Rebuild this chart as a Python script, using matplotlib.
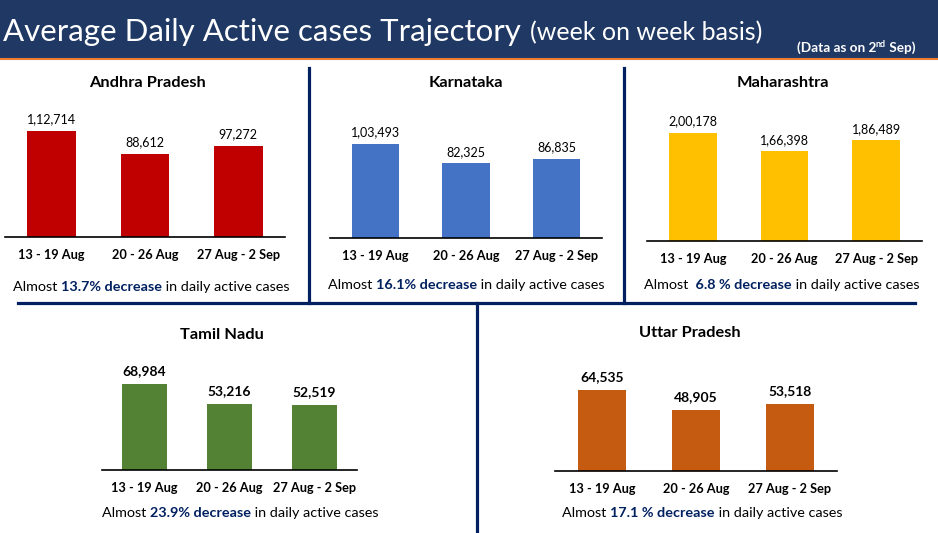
import matplotlib
matplotlib.use('Agg')
import matplotlib.pyplot as plt
from matplotlib.lines import Line2D
from matplotlib.patches import Rectangle

plt.rcParams['font.family'] = ['Lato', 'DejaVu Sans']

W, H = 938, 533

# data
weeks = ['13 - 19 Aug', '20 - 26 Aug', '27 Aug - 2 Sep']
states = ['Andhra Pradesh', 'Karnataka', 'Maharashtra', 'Tamil Nadu', 'Uttar Pradesh']
andhra = [112714, 88612, 97272]
karnataka = [103493, 82325, 86835]
maharashtra = [200178, 166398, 186489]
tamil_nadu = [68984, 53216, 52519]
uttar_pradesh = [64535, 48905, 53518]
decrease = ['13.7%', '16.1%', ' 6.8 %', '23.9%', '17.1 %']
bar_colors = ['#C00000', '#4472C4', '#FFC000', '#548235', '#C55A11']

navy = '#002060'
header_navy = '#1F3864'


def fx(x):
    return x / W


def fy(y):
    return 1 - y / H


def indian(n):
    # lakh style grouping: 1,12,714
    s = str(n)
    head, tail = s[:-3], s[-3:]
    groups = []
    while len(head) > 2:
        groups.insert(0, head[-2:])
        head = head[:-2]
    if head:
        groups.insert(0, head)
    return ','.join(groups + [tail])


def chain(parts, cx, cy):
    # draw text pieces one after another, centred on cx
    r = fig.canvas.get_renderer()
    texts = []
    for s, size, weight, color, dy in parts:
        t = fig.text(0, fy(cy + dy), s, fontsize=size, fontweight=weight,
                     color=color, va='center', ha='left')
        texts.append(t)
    widths = [t.get_window_extent(r).width for t in texts]
    x = cx - sum(widths) / 2
    for t, w in zip(texts, widths):
        t.set_x(fx(x))
        x += w


fig = plt.figure(figsize=(W / 100, H / 100), dpi=100)
fig.patch.set_facecolor('white')

# header band
fig.add_artist(Rectangle((0, fy(57)), 1, 57 / H, transform=fig.transFigure,
                         color=header_navy, zorder=0))
fig.add_artist(Line2D([0, 1], [fy(58.5), fy(58.5)], color='#ED7D31', lw=1.5))
fig.text(fx(3), fy(32), 'Average Daily Active cases Trajectory', color='white',
         fontsize=22.5, va='center', ha='left')
fig.text(fx(530), fy(33), '(week on week basis)', color='white',
         fontsize=18, va='center', ha='left')

# panel layout: left, right, baseline, top of tallest bar, title xy, footer xy
panels = [
    (5, 285, 237, 131, (147, 83), (151, 287), False),
    (330, 602, 238, 144, (466, 83), (466, 285), False),
    (647, 922, 241, 133, (783, 83), (782, 285), False),
    (102, 357, 470, 384, (222, 335), (240, 513), True),
    (555, 837, 471, 390, (690, 333), (702, 513), True),
]
series = [andhra, karnataka, maharashtra, tamil_nadu, uttar_pradesh]

for i, (l, r, base, top, tpos, fpos, big) in enumerate(panels):
    vals = series[i]
    ax = fig.add_axes([fx(l), fy(base), (r - l) / W, (base - top) / H])
    ax.bar(range(3), vals, width=0.52, color=bar_colors[i])
    ax.set_xlim(-0.5, 2.5)
    ax.set_ylim(0, max(vals))
    ax.set_facecolor('none')
    for s in ['top', 'left', 'right']:
        ax.spines[s].set_visible(False)
    ax.spines['bottom'].set_linewidth(1.2)
    ax.set_yticks([])
    ax.set_xticks(range(3))
    ax.set_xticklabels(weeks, fontsize=9.2, fontweight='bold')
    ax.tick_params(axis='x', length=0, pad=8.5)
    for j, v in enumerate(vals):
        ax.annotate(indian(v), (j, v), xytext=(0, 4 if not big else 5),
                    textcoords='offset points', ha='center', va='bottom',
                    fontsize=10 if big else 9,
                    fontweight='bold' if big else 'normal',
                    annotation_clip=False)
    fig.text(fx(tpos[0]), fy(tpos[1]), states[i], fontsize=11.8,
             fontweight='bold', ha='center', va='center')
    chain([('Almost ', 10.4, 'normal', 'black', 0),
           (decrease[i] + ' decrease', 10.4, 'bold', navy, 0),
           (' in daily active cases', 10.4, 'normal', 'black', 0)],
          fpos[0], fpos[1])

# "(Data as on 2nd Sep)" with superscript
chain([('(Data as on 2', 9.8, 'bold', 'white', 0),
       ('nd', 6.5, 'bold', 'white', -3),
       (' Sep)', 9.8, 'bold', 'white', 0)], 856, 48)

# separator lines
for xs, ys in [([309, 309], [68, 303]), ([624, 624], [68, 303]),
               ([18, 915], [303, 303]), ([477, 477], [303, 533])]:
    fig.add_artist(Line2D([fx(x) for x in xs], [fy(y) for y in ys],
                          color=navy, lw=2.3))

fig.savefig('out.png', dpi=100)
